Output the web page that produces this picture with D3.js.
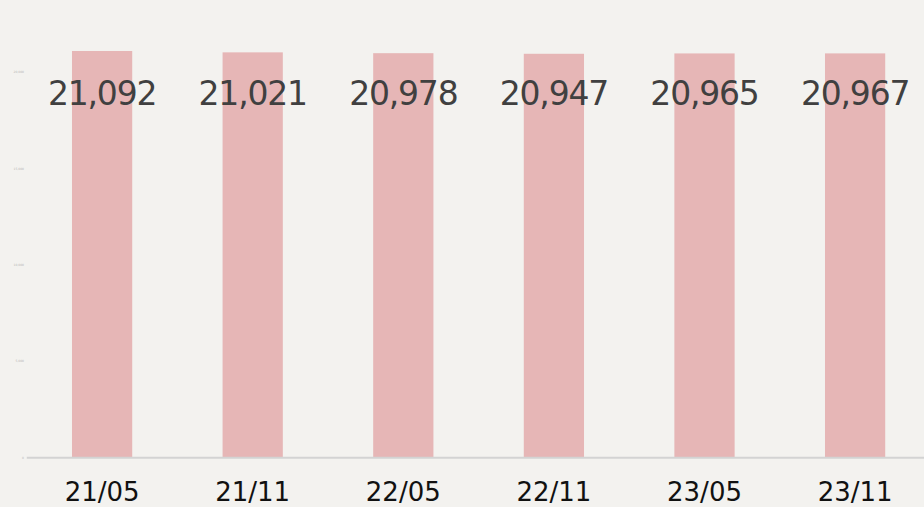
<!DOCTYPE html>
<html>
<head>
<meta charset="utf-8">
<script src="https://cdn.jsdelivr.net/npm/d3@7"></script>
<style>
  html, body { margin: 0; padding: 0; background: #f3f2ef; }
  svg { display: block; }
  .bar-label { font-family: "DejaVu Sans", Verdana, sans-serif; font-size: 33px; letter-spacing: -1.2px; fill: #404040; }
  .x.axis text { font-family: "DejaVu Sans", Verdana, sans-serif; font-size: 26px; fill: #111; }
  .y.axis text { font-family: "DejaVu Sans", sans-serif; font-size: 3px; fill: #b5b5b5; }
</style>
</head>
<body>
<div id="chart"></div>
<script>
// data
const periods = ['21/05', '21/11', '22/05', '22/11', '23/05', '23/11'];
const counts = [21092, 21021, 20978, 20947, 20965, 20967];
const yTicks = [0, 5000, 10000, 15000, 20000];

const width = 924, height = 507;
const margin = {left: 26.8, baseline: 457.3};

const data = periods.map((p, i) => ({period: p, count: counts[i]}));

const svg = d3.select('#chart')
  .append('svg')
  .attr('width', width)
  .attr('height', height);

// background
svg.append('rect')
  .attr('width', width)
  .attr('height', height)
  .attr('fill', '#f3f2ef');

// scales (plot runs a little past the right edge)
const xScale = d3.scaleBand()
  .domain(periods)
  .range([margin.left, margin.left + 903.6])
  .paddingInner(0.6)
  .paddingOuter(0.3);

// 25000 sits just above the top edge
const yScale = d3.scaleLinear([0, 25000], [margin.baseline, margin.baseline - 481.6]);

// y axis: tiny labels, no line
const yAxis = d3.axisLeft(yScale)
  .tickValues(yTicks)
  .tickFormat(d3.format(','))
  .tickSize(0)
  .tickPadding(0);
const yAxisDraw = svg.append('g')
  .attr('class', 'y axis')
  .attr('transform', 'translate(24,0)')
  .call(yAxis);
yAxisDraw.select('.domain').remove();

// bars
svg.selectAll('.bar')
  .data(data)
  .enter()
  .append('rect')
  .attr('class', 'bar')
  .attr('x', d => xScale(d.period))
  .attr('y', d => yScale(d.count))
  .attr('width', xScale.bandwidth())
  .attr('height', d => yScale(0) - yScale(d.count))
  .style('fill', '#e6b6b6');

// baseline
svg.append('line')
  .attr('x1', margin.left)
  .attr('x2', width)
  .attr('y1', yScale(0) + 0.5)
  .attr('y2', yScale(0) + 0.5)
  .attr('stroke', '#d3d3d3')
  .attr('stroke-width', 2);

// x axis
const xAxis = d3.axisBottom(xScale).tickSize(0).tickPadding(0);
const xAxisDraw = svg.append('g')
  .attr('class', 'x axis')
  .attr('transform', `translate(0,${yScale(0)})`)
  .call(xAxis);
xAxisDraw.select('.domain').remove();
xAxisDraw.selectAll('text')
  .attr('dy', null)
  .attr('y', 44);

// value labels
svg.selectAll('.bar-label')
  .data(data)
  .enter()
  .append('text')
  .attr('class', 'bar-label')
  .attr('x', d => xScale(d.period) + xScale.bandwidth() / 2)
  .attr('y', 105)
  .attr('text-anchor', 'middle')
  .text(d => d3.format(',')(d.count));
</script>
</body>
</html>
